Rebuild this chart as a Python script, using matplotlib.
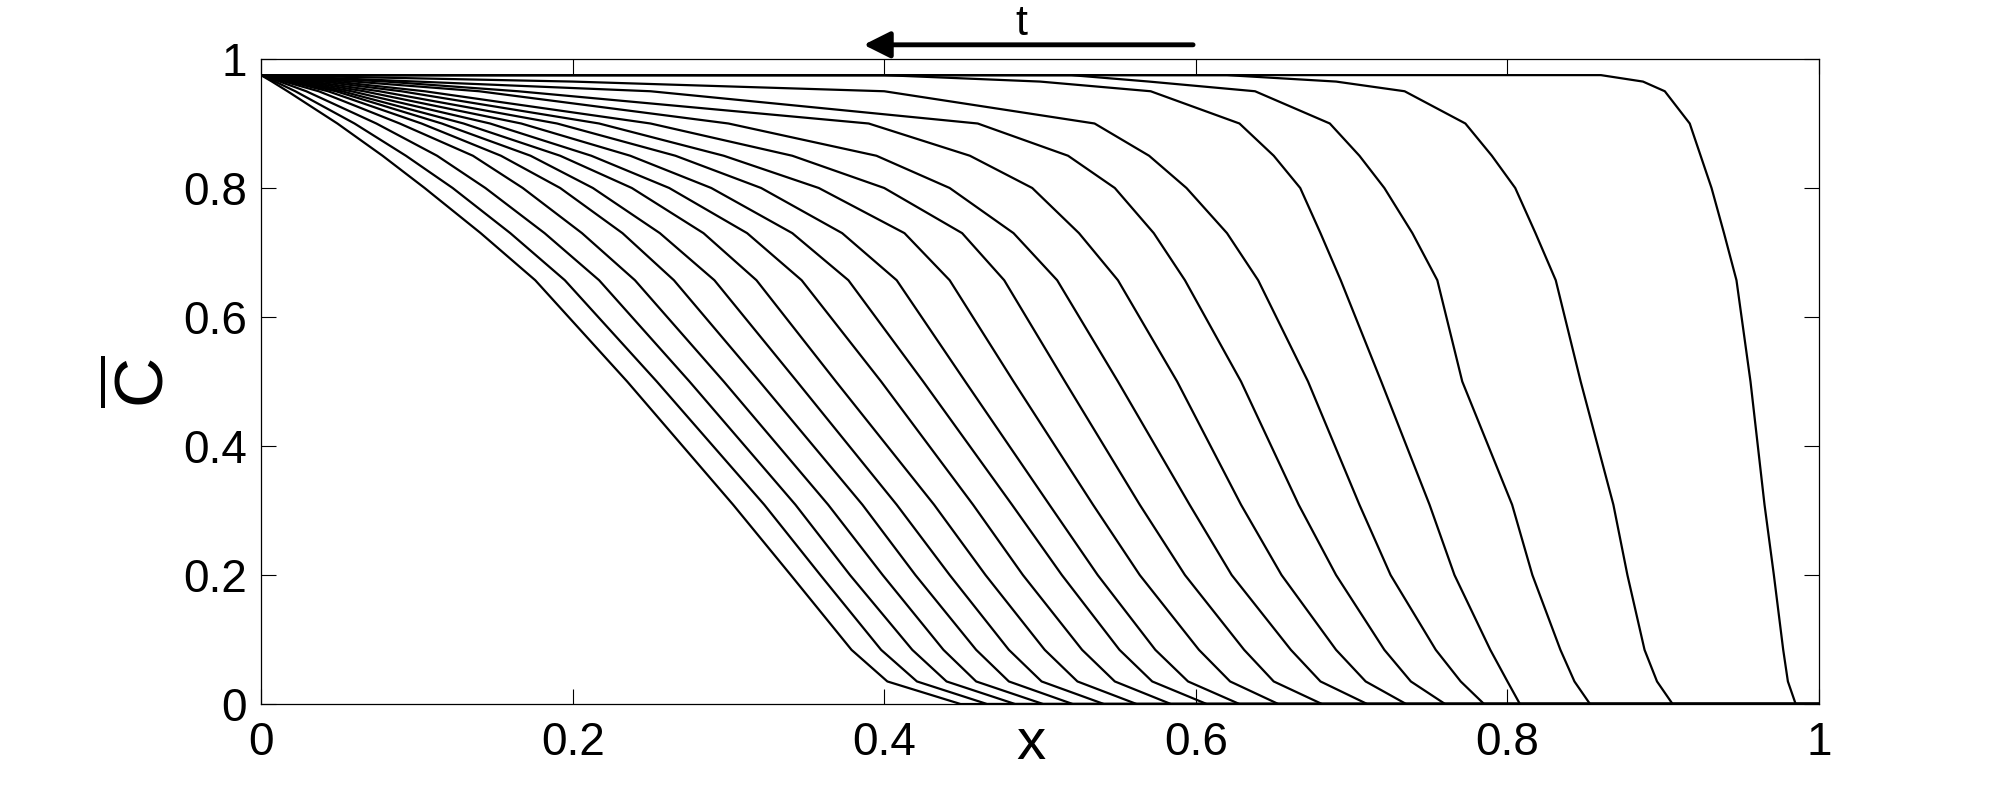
import matplotlib.pyplot as plt

plt.rcParams['font.family'] = ['Liberation Sans', 'DejaVu Sans']
plt.rcParams['mathtext.fontset'] = 'custom'
plt.rcParams['mathtext.rm'] = 'Liberation Sans'
plt.rcParams['xtick.direction'] = 'in'
plt.rcParams['ytick.direction'] = 'in'

# value at the left boundary / plateau
c_top = 0.975
# x where each of the 20 profiles leaves the plateau (0 = drops from x=0)
x_plateau_end = [0, 0, 0, 0, 0, 0, 0, 0, 0, 0, 0, 0, 0, 0, 0, 0, 0.40, 0.52, 0.62, 0.86]
# C levels at which the profiles were read, and x of each profile at that level
c_levels = [0.965, 0.95, 0.9, 0.85, 0.8, 0.73, 0.657, 0.5, 0.309, 0.2, 0.084, 0.035, 0.0]
x_c965 = [0.007, 0.009, 0.012, 0.015, 0.018, 0.020, 0.021, 0.024, 0.028, 0.033,
          0.040, 0.048, 0.060, 0.080, 0.100, 0.200, 0.500, 0.570, 0.690, 0.887]
x_c950 = [0.017, 0.022, 0.029, 0.037, 0.043, 0.048, 0.052, 0.058, 0.066, 0.076,
          0.090, 0.105, 0.140, 0.165, 0.250, 0.400, 0.571, 0.638, 0.734, 0.901]
x_c900 = [0.049, 0.060, 0.074, 0.089, 0.103, 0.116, 0.130, 0.147, 0.167, 0.190,
          0.217, 0.250, 0.300, 0.390, 0.460, 0.535, 0.628, 0.686, 0.773, 0.917]
x_c850 = [0.078, 0.093, 0.113, 0.136, 0.154, 0.173, 0.192, 0.212, 0.237, 0.266,
          0.297, 0.341, 0.395, 0.455, 0.518, 0.570, 0.650, 0.705, 0.790, 0.924]
x_c800 = [0.105, 0.123, 0.144, 0.168, 0.192, 0.213, 0.238, 0.262, 0.289, 0.321,
          0.358, 0.400, 0.442, 0.495, 0.548, 0.594, 0.667, 0.721, 0.805, 0.931]
x_c730 = [0.141, 0.160, 0.182, 0.206, 0.232, 0.256, 0.284, 0.312, 0.341, 0.373,
          0.413, 0.450, 0.483, 0.525, 0.573, 0.620, 0.680, 0.739, 0.818, 0.939]
x_c657 = [0.176, 0.195, 0.217, 0.240, 0.265, 0.291, 0.318, 0.347, 0.377, 0.408,
          0.442, 0.477, 0.511, 0.550, 0.593, 0.640, 0.693, 0.755, 0.831, 0.947]
x_c500 = [0.235, 0.254, 0.275, 0.297, 0.320, 0.344, 0.369, 0.398, 0.425, 0.452,
          0.483, 0.516, 0.550, 0.588, 0.629, 0.672, 0.719, 0.771, 0.847, 0.956]
x_c309 = [0.303, 0.323, 0.343, 0.364, 0.386, 0.408, 0.432, 0.457, 0.482, 0.506,
          0.534, 0.564, 0.596, 0.629, 0.666, 0.705, 0.750, 0.803, 0.868, 0.965]
x_c200 = [0.340, 0.359, 0.378, 0.399, 0.420, 0.442, 0.465, 0.489, 0.514, 0.537,
          0.564, 0.593, 0.623, 0.655, 0.690, 0.725, 0.766, 0.816, 0.877, 0.971]
x_c084 = [0.379, 0.398, 0.418, 0.438, 0.459, 0.480, 0.503, 0.527, 0.551, 0.574,
          0.602, 0.631, 0.661, 0.690, 0.721, 0.754, 0.789, 0.834, 0.888, 0.977]
x_c035 = [0.402, 0.421, 0.440, 0.459, 0.480, 0.501, 0.524, 0.548, 0.572, 0.595,
          0.622, 0.650, 0.680, 0.709, 0.738, 0.770, 0.800, 0.843, 0.896, 0.980]
x_c000 = [0.449, 0.466, 0.484, 0.502, 0.521, 0.541, 0.562, 0.584, 0.607, 0.628,
          0.653, 0.681, 0.710, 0.735, 0.760, 0.785, 0.808, 0.853, 0.906, 0.985]
x_by_level = [x_c965, x_c950, x_c900, x_c850, x_c800, x_c730, x_c657, x_c500,
              x_c309, x_c200, x_c084, x_c035, x_c000]

fig = plt.figure(figsize=(20.08, 7.93), dpi=100)
ax = fig.add_axes([0.130, 0.1122, 0.7759, 0.8134])

for i in range(len(x_c657)):
    xs = [0, x_plateau_end[i]] + [lv[i] for lv in x_by_level] + [1.0]
    ys = [c_top, c_top] + c_levels + [0.0]
    ax.plot(xs, ys, color='black', linewidth=1.6)

ax.set_xlim(0, 1)
ax.set_ylim(0, 1)
ax.set_xticks([0, 0.2, 0.4, 0.6, 0.8, 1.0])
ax.set_yticks([0, 0.2, 0.4, 0.6, 0.8, 1.0])
ax.set_xticklabels(['0', '0.2', '0.4', '0.6', '0.8', '1'])
ax.set_yticklabels(['0', '0.2', '0.4', '0.6', '0.8', '1'])
ax.tick_params(top=True, right=True, length=11, width=0.8, labelsize=33)
ax.tick_params(axis='x', pad=12)
ax.tick_params(axis='y', pad=10)
for s in ax.spines.values():
    s.set_linewidth(0.9)

ax.set_xlabel('x', fontsize=42)
ax.xaxis.set_label_coords(0.494, -0.020)
ax.set_ylabel(r'$\overline{\mathrm{C}}$', fontsize=50, labelpad=4)

# time arrow above the axes
ax.annotate('', xy=(0.385, 1.022), xytext=(0.60, 1.022), xycoords='data',
            annotation_clip=False,
            arrowprops=dict(arrowstyle='-|>', color='black', lw=3.5,
                            mutation_scale=40))
ax.text(0.488, 1.024, 't', fontsize=31, ha='center', va='bottom')

fig.savefig('out.png', dpi=100)
